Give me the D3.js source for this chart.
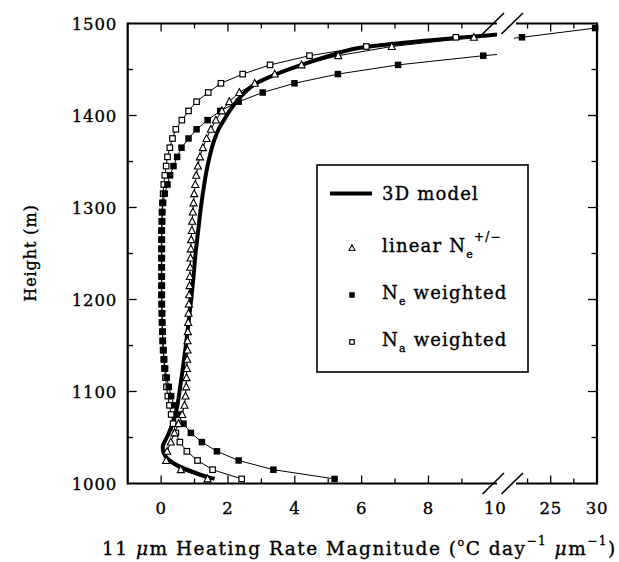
<!DOCTYPE html>
<html>
<head>
<meta charset="utf-8">
<script src="https://cdn.jsdelivr.net/npm/d3@7"></script>
<style>
  body { margin: 0; background: #fff; }
  svg { display: block; }
  text { font-family: "DejaVu Serif", serif; fill: #000; stroke: #000; stroke-width: 0.35px; }
</style>
</head>
<body>
<svg id="chart" width="619" height="562"></svg>
<script>
// heights of the plotted points (m)
const heights = [1005, 1015, 1025, 1035, 1045, 1055, 1065, 1075, 1085, 1095,
                 1105, 1115, 1125, 1135, 1145, 1155, 1165, 1175, 1185, 1195,
                 1205, 1215, 1225, 1235, 1245, 1255, 1265, 1275, 1285, 1295,
                 1305, 1315, 1325, 1335, 1345, 1355, 1365, 1375, 1385, 1395,
                 1405, 1415, 1425, 1435, 1445, 1455, 1465, 1475, 1485, 1495];

const linearNe = [1.39, 0.59, 0.15, 0.18, 0.29, 0.40, 0.52, 0.63, 0.70, 0.73,
                  0.75, 0.76, 0.77, 0.78, 0.79, 0.79, 0.80, 0.81, 0.82, 0.83,
                  0.84, 0.85, 0.86, 0.87, 0.88, 0.89, 0.90, 0.92, 0.93, 0.95,
                  0.97, 0.99, 1.02, 1.05, 1.10, 1.16, 1.25, 1.36, 1.49, 1.64,
                  1.82, 2.04, 2.34, 2.80, 3.40, 4.20, 5.30, 6.90, 9.36, 12.5];

const neWeighted = [5.19, 3.36, 2.32, 1.67, 1.22, 0.89, 0.67, 0.50, 0.39, 0.30,
                    0.23, 0.17, 0.12, 0.09, 0.07, 0.05, 0.04, 0.03, 0.02, 0.02,
                    0.01, 0.01, 0.01, 0.01, 0.01, 0.01, 0.01, 0.01, 0.02, 0.03,
                    0.06, 0.11, 0.19, 0.27, 0.37, 0.48, 0.61, 0.82, 1.06, 1.39,
                    1.77, 2.32, 3.04, 3.99, 5.29, 7.09, 9.64, 12.8, 21.9, 29.8];

const naWeighted = [2.41, 1.54, 1.09, 0.77, 0.56, 0.44, 0.36, 0.30, 0.25, 0.20,
                    0.16, 0.13, 0.10, 0.08, 0.06, 0.05, 0.04, 0.03, 0.03, 0.02,
                    0.02, 0.02, 0.02, 0.02, 0.02, 0.02, 0.02, 0.02, 0.03, 0.03,
                    0.04, 0.06, 0.08, 0.11, 0.15, 0.19, 0.26, 0.34, 0.44, 0.62,
                    0.82, 1.06, 1.41, 1.79, 2.44, 3.26, 4.44, 6.14, 8.82, 12.0];

// 3D model curve
const modelHeights = [1005, 1010, 1015, 1020, 1025, 1030, 1035, 1040, 1045, 1050,
                      1060, 1070, 1080, 1090, 1100, 1125, 1150, 1175, 1200, 1225,
                      1250, 1275, 1300, 1325, 1340, 1355, 1370, 1385, 1395, 1405,
                      1415, 1425, 1435, 1445, 1455, 1465, 1475, 1480, 1487.5, 1495];
const modelValues = [1.6, 1.15, 0.78, 0.47, 0.26, 0.12, 0.06, 0.05, 0.1, 0.17,
                     0.29, 0.39, 0.46, 0.51, 0.55, 0.65, 0.74, 0.82, 0.9, 0.97,
                     1.03, 1.11, 1.19, 1.29, 1.36, 1.45, 1.56, 1.72, 1.88, 2.05,
                     2.25, 2.5, 2.85, 3.45, 4.2, 5.05, 6.2, 7.5, 9.9, 12.5];

const yTicks = [1000, 1100, 1200, 1300, 1400, 1500];
const yMinor = [1050, 1150, 1250, 1350, 1450];
const xTicksLeft = [0, 2, 4, 6, 8, 10];
const xMinorLeft = [1, 3, 5, 7, 9];
const xTicksRight = [25, 30];
const xMinorRight = [22.5, 27.5];

const svg = d3.select("#chart");

const pLeft = 127.7, pRight = 597, pTop = 23.5, pBottom = 483.5;
const gapL = 497, gapR = 514;

const y = d3.scaleLinear().domain([1000, 1500]).range([pBottom, pTop]);
const xL = d3.scaleLinear().domain([-1, 10]).range([pLeft, 495.3]);
const xR = d3.scaleLinear().domain([20, 30]).range([504.4, pRight]);

const defs = svg.append("defs");
defs.append("clipPath").attr("id", "clipL")
    .append("rect").attr("x", pLeft).attr("y", pTop - 20).attr("width", gapL - pLeft).attr("height", pBottom - pTop + 40);
defs.append("clipPath").attr("id", "clipR")
    .append("rect").attr("x", gapR).attr("y", pTop - 20).attr("width", pRight - gapR + 10).attr("height", pBottom - pTop + 40);

// drawing order: open squares, filled squares, triangles
const series = [
    {name: "na", values: naWeighted, symbol: "osq"},
    {name: "ne", values: neWeighted, symbol: "fsq"},
    {name: "linear", values: linearNe, symbol: "tri"}
];

function drawMarker(sel, symbol, s) {
    if (symbol === "tri") {
        sel.append("path")
            .attr("d", `M0,${-s * 0.6}L${s * 0.55},${s * 0.45}L${-s * 0.55},${s * 0.45}Z`)
            .attr("fill", "#fff").attr("stroke", "#000").attr("stroke-width", 1.1);
    } else if (symbol === "fsq") {
        sel.append("rect").attr("x", -s / 2).attr("y", -s / 2).attr("width", s).attr("height", s)
            .attr("fill", "#000");
    } else {
        sel.append("rect").attr("x", -s / 2 + 0.5).attr("y", -s / 2 + 0.5).attr("width", s - 1).attr("height", s - 1)
            .attr("fill", "#fff").attr("stroke", "#000").attr("stroke-width", 1.2);
    }
}

[["clipL", xL], ["clipR", xR]].forEach(function (panel) {
    const x = panel[1];
    const g = svg.append("g").attr("clip-path", `url(#${panel[0]})`);

    const modelLine = d3.line()
        .x(function (d, i) { return x(modelValues[i]); })
        .y(function (d) { return y(d); })
        .curve(d3.curveMonotoneY);
    g.append("path").datum(modelHeights)
        .attr("d", modelLine)
        .attr("fill", "none").attr("stroke", "#000").attr("stroke-width", 4);

    series.forEach(function (s) {
        const line = d3.line()
            .x(function (d, i) { return x(s.values[i]); })
            .y(function (d) { return y(d); });
        g.append("path").datum(heights)
            .attr("d", line)
            .attr("fill", "none").attr("stroke", "#000").attr("stroke-width", 1);
    });

    series.forEach(function (s) {
        g.append("g").selectAll("g")
            .data(heights)
            .enter().append("g")
            .attr("transform", function (d, i) { return `translate(${x(s.values[i])},${y(d)})`; })
            .each(function () { drawMarker(d3.select(this), s.symbol, 6.5); });
    });
});

// frame
const frame = svg.append("g").attr("stroke", "#000").attr("stroke-width", 2.2).attr("fill", "none");
frame.append("line").attr("x1", pLeft).attr("x2", pLeft).attr("y1", pTop - 1).attr("y2", pBottom + 1);
frame.append("line").attr("x1", pRight).attr("x2", pRight).attr("y1", pTop - 1).attr("y2", pBottom + 1);
[pTop, pBottom].forEach(function (yy) {
    frame.append("line").attr("x1", pLeft).attr("x2", gapL).attr("y1", yy).attr("y2", yy);
    frame.append("line").attr("x1", gapR + 2).attr("x2", pRight).attr("y1", yy).attr("y2", yy);
});

// axis break marks
const brk = svg.append("g").attr("stroke", "#000").attr("stroke-width", 1.6);
[pTop, pBottom].forEach(function (yy) {
    [482.5, 501.5].forEach(function (x0) {
        brk.append("line").attr("x1", x0).attr("y1", yy + 10.5).attr("x2", x0 + 21.5).attr("y2", yy - 10.5);
    });
});

// ticks (pointing inward)
const ticks = svg.append("g").attr("stroke", "#000").attr("stroke-width", 1.3);
function yTick(v, len) {
    ticks.append("line").attr("x1", pLeft).attr("x2", pLeft + len).attr("y1", y(v)).attr("y2", y(v));
    ticks.append("line").attr("x1", pRight).attr("x2", pRight - len).attr("y1", y(v)).attr("y2", y(v));
}
yTicks.slice(1, -1).forEach(function (v) { yTick(v, 9); });
yMinor.forEach(function (v) { yTick(v, 5.5); });
function xTick(px, len) {
    ticks.append("line").attr("x1", px).attr("x2", px).attr("y1", pBottom).attr("y2", pBottom - len);
    ticks.append("line").attr("x1", px).attr("x2", px).attr("y1", pTop).attr("y2", pTop + len);
}
xTicksLeft.filter(function (v) { return v < 10; }).forEach(function (v) { xTick(xL(v), 8); });
xMinorLeft.forEach(function (v) { xTick(xL(v), 5); });
xTicksRight.filter(function (v) { return v < 30; }).forEach(function (v) { xTick(xR(v), 8); });
xMinorRight.forEach(function (v) { xTick(xR(v), 5); });

// tick labels
svg.append("g").selectAll("text")
    .data(yTicks).enter().append("text")
    .attr("x", 117).attr("y", function (d) { return y(d) + 6; })
    .attr("text-anchor", "end").attr("font-size", 16.5).attr("letter-spacing", 0.8)
    .text(function (d) { return d; });

svg.append("g").selectAll("text")
    .data(xTicksLeft).enter().append("text")
    .attr("x", function (d) { return xL(d); }).attr("y", 514)
    .attr("text-anchor", "middle").attr("font-size", 16.5).attr("letter-spacing", 0.8)
    .text(function (d) { return d; });
svg.append("g").selectAll("text")
    .data(xTicksRight).enter().append("text")
    .attr("x", function (d) { return xR(d); }).attr("y", 514)
    .attr("text-anchor", "middle").attr("font-size", 16.5).attr("letter-spacing", 0.8)
    .text(function (d) { return d; });

// axis titles
svg.append("text")
    .attr("transform", "translate(36,253) rotate(-90)")
    .attr("text-anchor", "middle").attr("font-size", 16).attr("letter-spacing", 0.9)
    .text("Height (m)");

const xt = svg.append("text").attr("x", 102).attr("y", 555)
    .attr("font-size", 18.5).attr("letter-spacing", 1.5);
xt.append("tspan").text("11 ");
xt.append("tspan").attr("font-style", "italic").text("μ");
xt.append("tspan").text("m Heating Rate Magnitude (");
xt.append("tspan").attr("dy", -9).attr("font-size", 11).text("o");
xt.append("tspan").attr("dy", 9).text("C day");
xt.append("tspan").attr("dy", -10).attr("font-size", 12).text("−1");
xt.append("tspan").attr("dy", 10).text(" ");
xt.append("tspan").attr("font-style", "italic").text("μ");
xt.append("tspan").text("m");
xt.append("tspan").attr("dy", -10).attr("font-size", 12).text("−1");
xt.append("tspan").attr("dy", 10).text(")");

// legend
const lg = svg.append("g");
lg.append("rect").attr("x", 317).attr("y", 165).attr("width", 211).attr("height", 207)
    .attr("fill", "#fff").attr("stroke", "#000").attr("stroke-width", 1.6);
lg.append("line").attr("x1", 330).attr("x2", 372).attr("y1", 193.5).attr("y2", 193.5)
    .attr("stroke", "#000").attr("stroke-width", 4);
drawMarker(lg.append("g").attr("transform", "translate(352,248)"), "tri", 5.5);
drawMarker(lg.append("g").attr("transform", "translate(352,295)"), "fsq", 5.5);
drawMarker(lg.append("g").attr("transform", "translate(352,342)"), "osq", 5.5);

const lt = lg.append("g").attr("font-size", 18).attr("letter-spacing", 1.2);
lt.append("text").attr("x", 382).attr("y", 200).text("3D model");
const t2 = lt.append("text").attr("x", 382).attr("y", 252);
t2.append("tspan").text("linear N");
t2.append("tspan").attr("dy", 6).attr("font-size", 11).text("e");
t2.append("tspan").attr("dy", -17).attr("font-size", 12).text("+/−");
const t3 = lt.append("text").attr("x", 382).attr("y", 299);
t3.append("tspan").text("N");
t3.append("tspan").attr("dy", 6).attr("font-size", 11).text("e");
t3.append("tspan").attr("dy", -6).text(" weighted");
const t4 = lt.append("text").attr("x", 382).attr("y", 346);
t4.append("tspan").text("N");
t4.append("tspan").attr("dy", 6).attr("font-size", 11).text("a");
t4.append("tspan").attr("dy", -6).text(" weighted");
</script>
</body>
</html>
